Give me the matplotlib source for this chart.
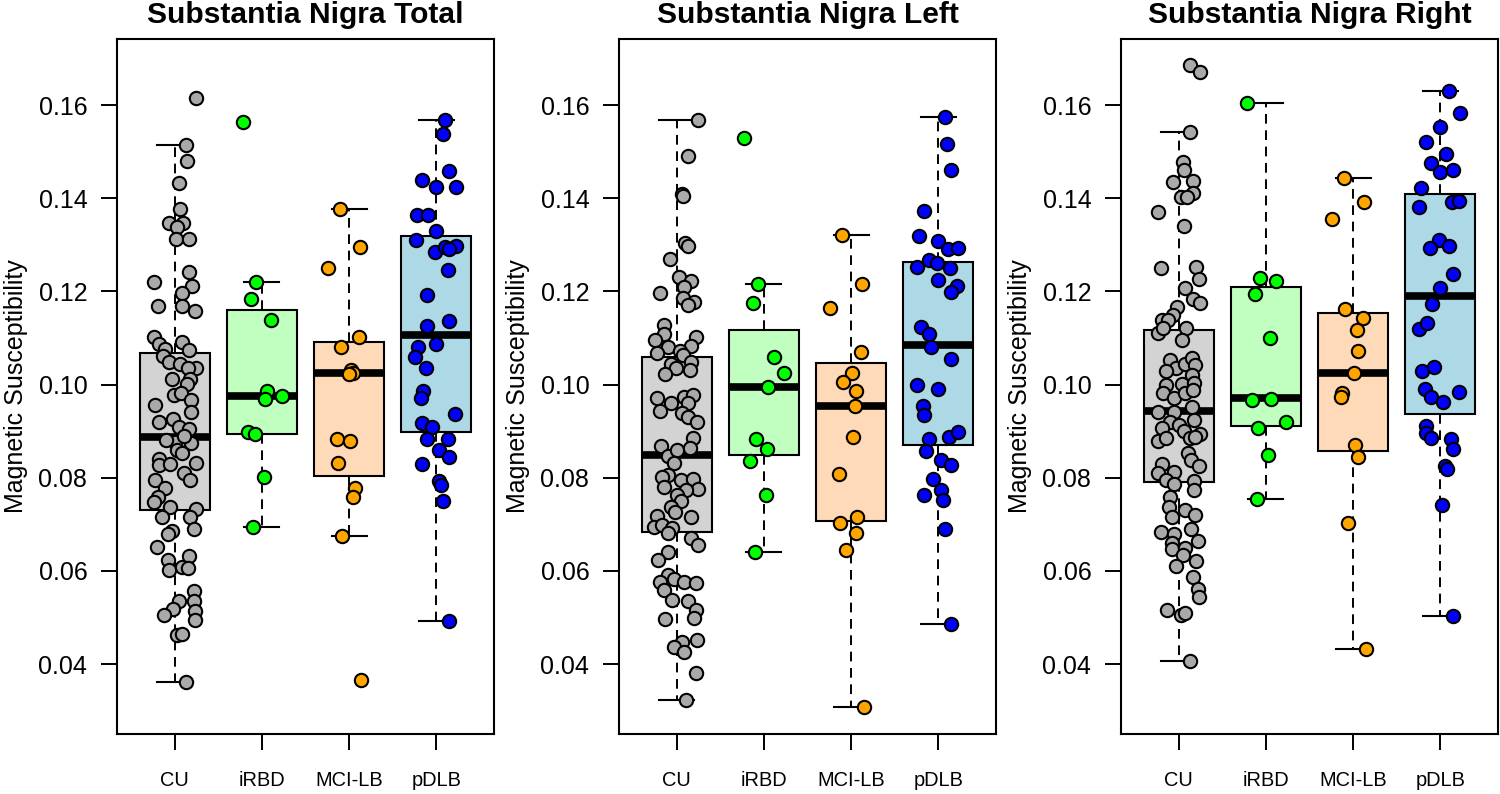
import matplotlib
matplotlib.use("Agg")
import matplotlib.pyplot as plt

plt.rcParams['font.family'] = ['Liberation Sans', 'DejaVu Sans']

groups = ["CU", "iRBD", "MCI-LB", "pDLB"]
titles = ["Substantia Nigra Total", "Substantia Nigra Left", "Substantia Nigra Right"]
point_colors = ["#A9A9A9", "#00FF00", "#FFA500", "#0000FF"]
box_colors = ["#D3D3D3", "#C1FFC1", "#FFDAB9", "#ADD8E6"]
y_ticks = [0.04, 0.06, 0.08, 0.10, 0.12, 0.14, 0.16]

# ---------------- Substantia Nigra Total ----------------
total_cu_vals = [0.1614, 0.1514, 0.1480, 0.1433, 0.1376, 0.1347, 0.1347, 0.1339, 0.1312, 0.1312,
                 0.1242, 0.1219, 0.1211, 0.1197, 0.1169, 0.1169, 0.1158, 0.1103, 0.1088, 0.1076,
                 0.1092, 0.1074, 0.1062, 0.1049, 0.1044, 0.1036, 0.1036, 0.1011, 0.1011, 0.1002,
                 0.0977, 0.0981, 0.0966, 0.0957, 0.0942, 0.0920, 0.0927, 0.0909, 0.0904, 0.0877,
                 0.0880, 0.0875, 0.0890, 0.0860, 0.0852, 0.0841, 0.0827, 0.0830, 0.0832, 0.0809,
                 0.0795, 0.0795, 0.0777, 0.0759, 0.0748, 0.0737, 0.0732, 0.0716, 0.0715, 0.0686,
                 0.0689, 0.0679, 0.0652, 0.0623, 0.0632, 0.0609, 0.0602, 0.0607, 0.0556, 0.0535,
                 0.0535, 0.0518, 0.0505, 0.0514, 0.0494, 0.0462, 0.0465, 0.0362]
total_cu_jit = [0.24, 0.13, 0.14, 0.05, 0.06, -0.06, 0.10, 0.03, 0.02, 0.17,
                0.17, -0.24, 0.20, 0.08, -0.19, 0.09, 0.23, -0.24, -0.18, -0.11,
                0.08, 0.16, -0.13, -0.06, 0.06, 0.24, 0.15, -0.03, 0.18, 0.14,
                -0.01, 0.07, 0.19, -0.23, 0.19, -0.18, -0.02, 0.05, 0.16, 0.01,
                -0.10, 0.19, 0.11, 0.03, 0.09, -0.18, -0.18, -0.05, 0.25, 0.11,
                0.18, -0.23, -0.11, -0.19, -0.24, -0.05, 0.24, 0.18, -0.14, -0.03,
                0.22, -0.08, -0.20, -0.08, 0.16, 0.08, -0.06, 0.15, 0.22, 0.22,
                0.05, -0.02, -0.12, 0.23, 0.23, 0.03, 0.08, 0.13]
total_irbd_vals = [0.1564, 0.1221, 0.1184, 0.1138, 0.0985, 0.0968, 0.0975, 0.0897, 0.0893, 0.0801, 0.0695]
total_irbd_jit = [-0.22, -0.07, -0.12, 0.11, 0.06, 0.04, 0.23, -0.16, -0.08, 0.03, -0.10]
total_mci_vals = [0.1376, 0.1295, 0.1251, 0.1103, 0.1080, 0.1031, 0.1025, 0.1023, 0.0884, 0.0879,
                  0.0832, 0.0777, 0.0759, 0.0675, 0.0365]
total_mci_jit = [-0.10, 0.13, -0.24, 0.11, -0.09, 0.02, 0.05, 0.00, -0.14, 0.01,
                 -0.13, 0.07, 0.05, -0.08, 0.14]
total_pdlb_vals = [0.1568, 0.1537, 0.1458, 0.1439, 0.1423, 0.1425, 0.1364, 0.1364, 0.1330, 0.1311,
                   0.1284, 0.1295, 0.1297, 0.1290, 0.1246, 0.1193, 0.1126, 0.1136, 0.1087, 0.1080,
                   0.1058, 0.1035, 0.0986, 0.0970, 0.0937, 0.0917, 0.0909, 0.0884, 0.0884, 0.0860,
                   0.0844, 0.0830, 0.0793, 0.0785, 0.0751, 0.0493]
total_pdlb_jit = [0.10, 0.07, 0.15, -0.16, -0.01, 0.22, -0.22, -0.10, 0.00, -0.23,
                  -0.02, 0.10, 0.22, 0.14, 0.13, -0.11, -0.11, 0.15, -0.01, -0.21,
                  -0.24, -0.12, -0.15, -0.18, 0.21, -0.17, -0.05, -0.11, 0.13, 0.03,
                  0.15, -0.16, 0.03, 0.05, 0.07, 0.15]
total_whislo = [0.0362, 0.0695, 0.0675, 0.0493]
total_q1 = [0.0731, 0.0893, 0.0803, 0.0897]
total_med = [0.0888, 0.0975, 0.1024, 0.1107]
total_q3 = [0.1067, 0.1160, 0.1091, 0.1319]
total_whishi = [0.1514, 0.1221, 0.1376, 0.1568]

# ---------------- Substantia Nigra Left ----------------
left_cu_vals = [0.1568, 0.1491, 0.1409, 0.1405, 0.1303, 0.1297, 0.1269, 0.1231, 0.1222, 0.1210,
                0.1197, 0.1185, 0.1178, 0.1171, 0.1128, 0.1108, 0.1096, 0.1103, 0.1081, 0.1083,
                0.1067, 0.1072, 0.1063, 0.1045, 0.1049, 0.1035, 0.1023, 0.1031,
                0.0970, 0.0944, 0.0961, 0.0974, 0.0977, 0.0960, 0.0938, 0.0930, 0.0920, 0.0885,
                0.0869, 0.0847, 0.0859, 0.0863, 0.0831, 0.0806, 0.0802, 0.0795, 0.0797, 0.0775,
                0.0774, 0.0781, 0.0763, 0.0751, 0.0738, 0.0727, 0.0716, 0.0718, 0.0695, 0.0698,
                0.0693, 0.0681, 0.0670, 0.0655, 0.0641, 0.0623, 0.0591, 0.0577, 0.0582, 0.0577,
                0.0573, 0.0559, 0.0537, 0.0536, 0.0516, 0.0498, 0.0496, 0.0448, 0.0437, 0.0426,
                0.0452, 0.0381, 0.0323]
left_cu_jit = [0.24, 0.13, 0.06, 0.07, 0.10, 0.13, -0.07, 0.03, 0.16, 0.08,
               -0.19, 0.07, 0.20, 0.13, -0.14, -0.14, -0.25, 0.22, -0.10, 0.16,
               -0.22, 0.04, 0.07, -0.06, 0.16, -0.01, -0.13, 0.15,
               -0.23, -0.19, -0.06, 0.08, 0.19, 0.13, 0.06, 0.13, 0.23, 0.19,
               -0.18, -0.10, 0.00, 0.15, -0.03, -0.10, -0.17, 0.05, 0.19, 0.25,
               0.11, -0.15, 0.00, 0.05, -0.06, -0.02, 0.17, -0.23, -0.26, -0.17,
               -0.05, -0.10, 0.17, 0.24, -0.10, -0.21, -0.10, -0.19, -0.03, 0.08,
               0.22, -0.14, -0.05, 0.13, 0.22, 0.20, -0.13, 0.06, -0.03, 0.08,
               0.23, 0.22, 0.11]
left_irbd_vals = [0.1530, 0.1216, 0.1176, 0.1059, 0.1024, 0.0995, 0.0882, 0.0862, 0.0836, 0.0763, 0.0640]
left_irbd_jit = [-0.23, -0.07, -0.12, 0.12, 0.23, 0.05, -0.09, 0.04, -0.16, 0.03, -0.10]
left_mci_vals = [0.1322, 0.1216, 0.1165, 0.1070, 0.1024, 0.1006, 0.0985, 0.0954, 0.0887, 0.0808,
                 0.0715, 0.0702, 0.0682, 0.0645, 0.0307]
left_mci_jit = [-0.10, 0.13, -0.24, 0.11, 0.01, -0.09, 0.06, 0.04, 0.02, -0.14,
                0.07, -0.13, 0.06, -0.06, 0.15]
left_pdlb_vals = [0.1575, 0.1516, 0.1460, 0.1372, 0.1318, 0.1309, 0.1290, 0.1292, 0.1267, 0.1261,
                  0.1253, 0.1250, 0.1225, 0.1211, 0.1198, 0.1124, 0.1109, 0.1081, 0.1054, 0.0999,
                  0.0991, 0.0954, 0.0934, 0.0884, 0.0888, 0.0897, 0.0858, 0.0839, 0.0828, 0.0798,
                  0.0773, 0.0753, 0.0763, 0.0690, 0.0485]
left_pdlb_jit = [0.07, 0.10, 0.15, -0.16, -0.22, 0.00, 0.11, 0.23, -0.11, -0.02,
                 -0.24, 0.13, 0.00, 0.21, 0.15, -0.20, -0.11, -0.09, 0.15, -0.24,
                 -0.01, -0.18, -0.17, -0.11, 0.12, 0.22, -0.14, 0.03, 0.15, -0.06,
                 0.03, 0.05, -0.16, 0.08, 0.15]
left_whislo = [0.0323, 0.0640, 0.0307, 0.0485]
left_q1 = [0.0684, 0.0849, 0.0708, 0.0871]
left_med = [0.0848, 0.0995, 0.0954, 0.1085]
left_q3 = [0.1060, 0.1117, 0.1046, 0.1263]
left_whishi = [0.1568, 0.1216, 0.1322, 0.1575]

# ---------------- Substantia Nigra Right ----------------
right_cu_vals = [0.1686, 0.1670, 0.1541, 0.1478, 0.1460, 0.1434, 0.1437, 0.1412, 0.1402, 0.1402,
                 0.1371, 0.1340, 0.1250, 0.1253, 0.1226, 0.1208, 0.1183, 0.1176, 0.1167, 0.1149,
                 0.1138, 0.1139, 0.1110, 0.1121, 0.1121, 0.1096, 0.1053, 0.1035, 0.1029, 0.1045,
                 0.1056, 0.1042, 0.1021,
                 0.0999, 0.1001, 0.1004, 0.0981, 0.0970, 0.0982, 0.0988,
                 0.0942, 0.0942, 0.0952, 0.0920, 0.0913, 0.0924, 0.0906, 0.0900, 0.0885, 0.0894,
                 0.0879, 0.0885, 0.0888, 0.0854, 0.0838, 0.0824, 0.0829, 0.0809, 0.0813, 0.0795,
                 0.0786, 0.0793, 0.0774, 0.0759, 0.0738, 0.0716, 0.0731, 0.0720, 0.0689, 0.0684,
                 0.0679, 0.0660, 0.0646, 0.0648, 0.0634, 0.0663, 0.0610, 0.0621, 0.0587, 0.0560,
                 0.0544, 0.0516, 0.0505, 0.0510, 0.0407]
right_cu_jit = [0.13, 0.24, 0.13, 0.05, 0.06, -0.06, 0.17, 0.17, 0.03, 0.10,
                -0.24, 0.06, -0.20, 0.20, 0.23, 0.07, 0.16, 0.24, -0.02, -0.06,
                -0.19, -0.12, -0.24, -0.18, 0.08, 0.04, -0.10, -0.03, -0.15, 0.07,
                0.15, 0.19, 0.15,
                -0.14, 0.04, 0.18, -0.18, -0.05, 0.07, 0.17,
                -0.24, -0.05, 0.15, -0.10, 0.00, 0.18, -0.19, 0.06, 0.13, 0.24,
                -0.24, -0.14, 0.19, 0.11, 0.14, 0.23, -0.19, -0.24, -0.05, -0.14,
                -0.05, 0.18, 0.18, -0.10, -0.11, -0.08, 0.07, 0.19, 0.14, -0.20,
                -0.05, -0.08, -0.08, 0.07, 0.05, 0.22, -0.03, 0.20, 0.16, 0.22,
                0.23, -0.13, 0.03, 0.07, 0.13]
right_irbd_vals = [0.1605, 0.1229, 0.1223, 0.1195, 0.1100, 0.0966, 0.0968, 0.0907, 0.0919, 0.0848, 0.0754]
right_irbd_jit = [-0.22, -0.07, 0.12, -0.12, 0.05, -0.16, 0.06, -0.09, 0.23, 0.03, -0.10]
right_mci_vals = [0.1444, 0.1391, 0.1355, 0.1163, 0.1142, 0.1117, 0.1072, 0.1025, 0.0982, 0.0974,
                  0.0871, 0.0844, 0.0702, 0.0432]
right_mci_jit = [-0.10, 0.13, -0.24, -0.09, 0.11, 0.04, 0.06, 0.01, -0.13, -0.14,
                 0.02, 0.06, -0.06, 0.15]
right_pdlb_vals = [0.1630, 0.1583, 0.1552, 0.1520, 0.1495, 0.1475, 0.1457, 0.1460, 0.1422, 0.1381,
                   0.1391, 0.1393, 0.1310, 0.1293, 0.1297, 0.1238, 0.1207, 0.1172, 0.1119, 0.1131,
                   0.1029, 0.1037, 0.0990, 0.0974, 0.0962, 0.0984, 0.0911, 0.0896, 0.0886, 0.0882,
                   0.0862, 0.0825, 0.0819, 0.0741, 0.0502]
right_pdlb_jit = [0.10, 0.22, -0.01, -0.16, 0.06, -0.11, 0.00, 0.14, -0.22, -0.24,
                  0.13, 0.21, -0.02, -0.12, 0.10, 0.14, -0.01, -0.10, -0.24, -0.15,
                  -0.21, -0.07, -0.18, -0.11, 0.03, 0.21, -0.16, -0.17, -0.11, 0.12,
                  0.15, 0.05, 0.08, 0.02, 0.14]
right_whislo = [0.0407, 0.0754, 0.0432, 0.0502]
right_q1 = [0.0791, 0.0912, 0.0858, 0.0937]
right_med = [0.0943, 0.0970, 0.1025, 0.1190]
right_q3 = [0.1118, 0.1209, 0.1153, 0.1408]
right_whishi = [0.1541, 0.1605, 0.1444, 0.1630]

panels = [
    dict(title=titles[0],
         points=[(total_cu_vals, total_cu_jit), (total_irbd_vals, total_irbd_jit),
                 (total_mci_vals, total_mci_jit), (total_pdlb_vals, total_pdlb_jit)],
         stats=(total_whislo, total_q1, total_med, total_q3, total_whishi)),
    dict(title=titles[1],
         points=[(left_cu_vals, left_cu_jit), (left_irbd_vals, left_irbd_jit),
                 (left_mci_vals, left_mci_jit), (left_pdlb_vals, left_pdlb_jit)],
         stats=(left_whislo, left_q1, left_med, left_q3, left_whishi)),
    dict(title=titles[2],
         points=[(right_cu_vals, right_cu_jit), (right_irbd_vals, right_irbd_jit),
                 (right_mci_vals, right_mci_jit), (right_pdlb_vals, right_pdlb_jit)],
         stats=(right_whislo, right_q1, right_med, right_q3, right_whishi)),
]

W, H = 1500, 794
fig = plt.figure(figsize=(W / 100, H / 100), dpi=100)

panel_left_px = [117, 619, 1121]
ax_w_px = 377
ax_top_px = 39
ax_bot_px = 733.7
ax_h_px = ax_bot_px - ax_top_px

for p, left_px in zip(panels, panel_left_px):
    ax = fig.add_axes([left_px / W, 1 - ax_bot_px / H, ax_w_px / W, ax_h_px / H])
    whislo, q1, med, q3, whishi = p["stats"]
    stats = [dict(whislo=whislo[i], q1=q1[i], med=med[i], q3=q3[i], whishi=whishi[i], fliers=[])
             for i in range(len(groups))]
    bp = ax.bxp(stats, positions=list(range(1, len(groups) + 1)), widths=0.8,
                patch_artist=True, showfliers=False,
                boxprops=dict(linewidth=1.5, edgecolor="black"),
                medianprops=dict(color="black", linewidth=5.5, solid_capstyle="butt"),
                whiskerprops=dict(color="black", linewidth=1.4, linestyle=(0, (5, 3.4))),
                capprops=dict(color="black", linewidth=1.5))
    for patch, c in zip(bp["boxes"], box_colors):
        patch.set_facecolor(c)

    for i, (vals, jit) in enumerate(p["points"]):
        xs = [i + 1 + j for j in jit]
        ax.plot(xs, vals, linestyle="none", marker="o", markersize=9.6,
                markerfacecolor=point_colors[i], markeredgecolor="black",
                markeredgewidth=1.5, zorder=3, clip_on=False)

    ax.set_xlim(0.34, 4.66)
    ax.set_ylim(0.02504, 0.17417)
    ax.set_yticks(y_ticks)
    ax.set_yticklabels([f"{v:.2f}" for v in y_ticks])
    ax.set_xticks(list(range(1, len(groups) + 1)))
    ax.set_xticklabels(groups)
    ax.tick_params(axis="y", length=11.5, width=1.4, pad=9.9, labelsize=18)
    ax.tick_params(axis="x", length=11.5, width=1.4, pad=15, labelsize=14.4)
    for s in ax.spines.values():
        s.set_linewidth(1.5)

    ax.text((16 - 117) / ax_w_px, 0.5,
            "Magnetic Susceptibility", rotation=90, ha="center", va="center",
            transform=ax.transAxes, fontsize=18)
    ax.text(0.5, 1 + 15.7 / ax_h_px, p["title"], ha="center", va="baseline",
            transform=ax.transAxes, fontsize=21.6, fontweight="bold")

fig.savefig("out.png", dpi=100)
